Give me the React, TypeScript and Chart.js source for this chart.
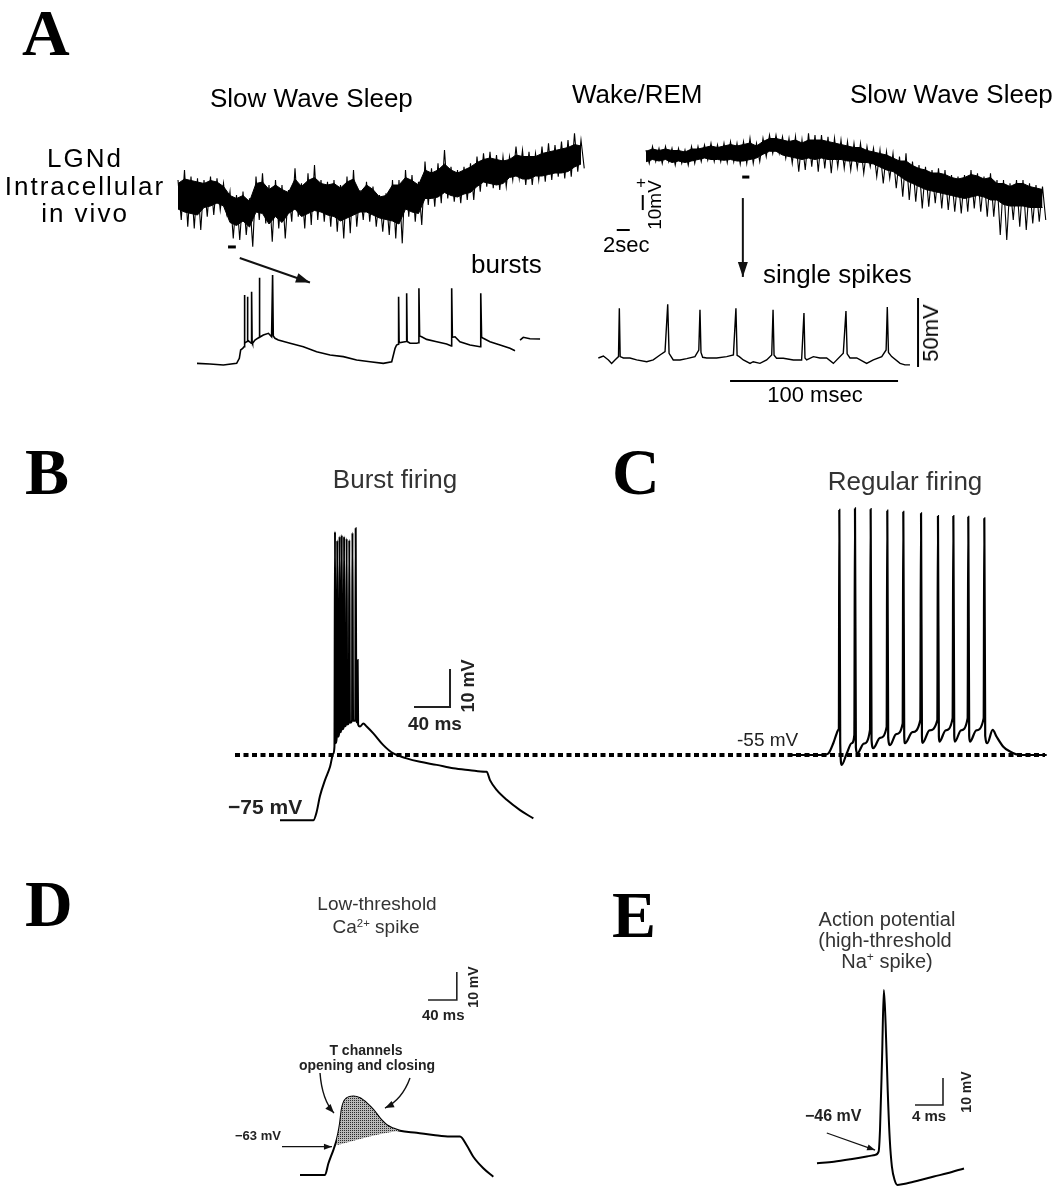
import React, { useEffect, useRef } from "react";
import { Chart, registerables } from "chart.js";

Chart.register(...registerables);

const W = 1057;
const H = 1188;

// ---------- Panel A (top): LGNd intracellular in vivo recording, 1-s samples (mV)
// extremes of the noisy trace (spike tips) and the dense core of the band
const swsStart = 0;
const swsHigh = [
  -46.7, -40, -44.4, -45.6, -46.7, -44.4, -45.6, -48.9, -54.4, -56.7,
  -54.4, -58.9, -44.4, -42.2, -50, -46.7, -50, -53.3, -38.9, -48.9,
  -42.2, -36.7, -46.7, -47.8, -46.7, -50, -44.4, -40, -53.3, -47.8,
  -51.1, -56.7, -55.6, -46.7, -46.7, -40, -43.3, -47.8, -34.4, -38.9,
  -35.6, -26.7, -37.8, -40, -37.8, -35.6, -31.1, -28.9, -27.8, -30,
  -31.1, -31.1, -24.4, -26.7, -27.8, -28.9, -24.4, -22.2, -23.3, -21.1,
  -20, -15.6, -20,
];
const swsLow = [
  -73.3, -77.8, -78.9, -80, -71.1, -70, -66.7, -68.9, -85.6, -86.7,
  -83.3, -91.1, -73.3, -75.6, -87.8, -78.9, -85.6, -74.4, -71.1, -78.9,
  -76.7, -73.3, -74.4, -77.8, -81.1, -85.6, -82.2, -77.8, -73.3, -74.4,
  -77.8, -81.1, -83.3, -85.6, -88.9, -71.1, -74.4, -76.7, -63.3, -64.4,
  -62.2, -58.9, -61.1, -62.2, -60, -60, -54.4, -51.1, -52.2, -53.3,
  -51.1, -46.7, -45.6, -50, -50, -46.7, -47.8, -46.7, -44.4, -45.6,
  -44.4, -41.1, -38.9,
];
const swsCoreHigh = [
  -49, -46, -47, -48, -49, -47, -48, -51, -57, -59,
  -57, -61, -49, -48, -53, -50, -53, -55, -46, -51,
  -47, -45, -49, -50, -49, -52, -48, -46, -55, -50,
  -53, -58, -57, -50, -50, -45, -47, -50, -40, -42,
  -40, -36, -40, -42, -40, -38, -35, -33, -32, -33,
  -34, -33, -30, -31, -31, -31, -29, -28, -27, -26,
  -25, -23, -24,
];
const swsCoreLow = [
  -66, -68, -69, -70, -65, -64, -62, -64, -75, -77,
  -74, -78, -68, -69, -76, -71, -75, -69, -66, -71,
  -69, -67, -68, -70, -71, -74, -72, -70, -68, -68,
  -70, -72, -73, -74, -76, -66, -68, -69, -59, -59,
  -58, -55, -57, -58, -56, -55, -51, -48, -49, -50,
  -49, -45, -44, -46, -46, -44, -44, -43, -42, -42,
  -41, -38, -36,
];
const wakeStart = 72;
const wakeHigh = [
  -26.7, -24.4, -25.6, -24.4, -25.6, -25.6, -26.7, -24.4, -24.4, -23.3,
  -22.2, -23.3, -22.2, -21.1, -22.2, -21.1, -18.9, -22.2, -18.9, -16.7,
  -16.7, -17.8, -18.9, -17.8, -20, -15.6, -16.7, -16.7, -17.8, -18.9,
  -20, -21.1, -22.2, -22.2, -24.4, -25.6, -26.7, -27.8, -28.9, -31.1,
  -28.9, -34.4, -36.7, -37.8, -40, -38.9, -40, -43.3, -44.4, -43.3,
  -40, -42.2, -44.4, -42.2, -46.7, -46.7, -48.9, -46.7, -46.7, -48.9,
  -50, -51.1,
];
const wakeLow = [
  -35.6, -34.4, -35.6, -34.4, -36.7, -35.6, -36.7, -35.6, -34.4, -33.3,
  -34.4, -34.4, -35.1, -34.4, -36, -35.6, -35.6, -34.4, -31.1, -28.9,
  -28.9, -32.2, -35.6, -41.1, -40, -37.8, -41.1, -38.9, -42.2, -37.8,
  -38.9, -40, -38.9, -42.2, -37.8, -44.4, -48.9, -45.6, -52.2, -57.8,
  -60, -61.1, -65.6, -64.4, -62.2, -65.6, -66.7, -67.8, -68.9, -67.8,
  -65.6, -67.8, -71.1, -71.1, -83.3, -86.7, -73.3, -77.8, -80, -75.6,
  -74.4, -73.3,
];
const wakeCoreHigh = [
  -27.5, -26, -27, -26, -27, -27, -28, -26, -26, -25,
  -24, -25, -24, -23, -24, -23, -22, -24, -21, -19,
  -19, -20, -21, -20, -22, -20, -20, -20, -21, -22,
  -23, -24, -25, -25, -27, -28, -29, -30, -32, -34,
  -34, -37, -39, -40, -42, -42, -43, -45, -46, -45,
  -43, -44, -46, -45, -49, -49, -51, -49, -49, -51,
  -52, -53,
];
const wakeCoreLow = [
  -34.5, -33, -34, -33, -35, -34, -35, -34, -33, -32,
  -33, -33, -33.5, -33, -34, -34, -33, -32, -29.5, -27.5,
  -27.5, -30, -31, -32, -33, -32, -33, -32, -33, -33,
  -33, -34, -34, -35, -35, -36, -38, -40, -41, -44,
  -47, -49, -51, -53, -54, -55, -56, -57, -58, -59,
  -58, -57, -58, -60, -60, -63, -64, -64, -64, -65,
  -65, -65,
];
// expanded segments marked under the slow trace: [start s, end s, mV]
const expandMarks = [
  [7.7, 8.9, -91.3],
  [86.8, 87.9, -44.7],
];

// ---------- Panel A (bottom): bursts (ms, mV)
const burstT = [0, 7.7, 15.7, 23.6, 25.2, 26, 27.2, 28, 28.2, 28.5, 29.8, 30, 30.3, 32.3, 32.5, 32.8, 33.1, 34.5, 37, 37.1, 37.4, 39.5, 42.5, 44.4, 45, 45.4, 46.4, 48.4, 55.4, 63.3, 71.2, 79.2, 87.1, 95, 103, 110.9, 115.9, 116.9, 117.9, 118.8, 119.8, 120, 120.3, 123.8, 124.6, 124.8, 125.1, 126.8, 130.8, 131.9, 132.1, 132.5, 133.7, 136.7, 142.7, 148.6, 151.4, 151.6, 152, 153.6, 156.5, 162.5, 168.5, 168.8, 169, 169.4, 170.4, 174.4, 180.4, 186.3, 189.3];
const burstV = [-63.9, -64.3, -65.1, -63.9, -60.2, -54.2, -53, -51.8, -14.3, -49.3, -48, -15.6, -47, -49.3, -12, -48, -49.3, -47, -45, -1.8, -45, -43.3, -42.1, -44.6, 0.1, -44, -45.7, -47, -49.3, -51.8, -55.4, -57.8, -59, -61.4, -62.7, -63.9, -62.7, -57.8, -53, -50.6, -50, -15.6, -49, -48.2, -48, -13.1, -48, -49.3, -49.3, -49, -9.5, -44, -44.6, -46.5, -48.2, -49.9, -51.3, -9.5, -45, -44.6, -48.2, -50.6, -51.8, -51.8, -13.1, -45, -45.7, -48.2, -50.6, -53, -54.7];
const burstTailT = [192.3, 194.2, 198.2, 204.2];
const burstTailV = [-47, -45, -46, -46.2];

// ---------- Panel A (bottom): single spikes (ms, mV)
const singleT = [0.2, 3.2, 6.2, 8.1, 10.1, 12.2, 12.7, 13.2, 15.1, 19, 23, 29, 32.9, 36.9, 39.9, 41.5, 42.3, 44.8, 48.8, 52.8, 57.7, 60, 60.7, 61.3, 62.3, 64.7, 70.6, 76.6, 80.6, 82.1, 82.8, 84.1, 86.5, 90.5, 92.4, 96.4, 100.4, 103.4, 104.2, 104.8, 106.3, 110.3, 116.3, 121.2, 122.6, 123.2, 124.2, 128.2, 132.1, 136.1, 140.1, 146, 147.6, 148.3, 150, 154, 159.9, 163.9, 168.9, 171.5, 172.2, 172.9, 174.8, 179.8, 182.7, 185.7];
const singleV = [-60, -58.6, -61.4, -63.9, -61.4, -59, -24, -59, -60, -60, -61.4, -62.7, -61.4, -57.8, -55.4, -21, -56.6, -61.4, -61.4, -60.5, -59, -54.2, -25, -56, -59.5, -60, -60, -59, -57.8, -24, -58, -59, -61.4, -63.9, -62.7, -63.9, -61.4, -57.8, -25, -58, -60.2, -60.2, -61.4, -61.4, -27.4, -60, -61.4, -59, -60, -60, -63.9, -56.6, -26, -57, -60, -60, -63.9, -61.4, -59, -54.2, -23, -56, -59, -63.9, -65, -65];

// ---------- Panel B: burst firing (ms, mV)
const burstFiringT = [0, 37, 40.7, 44.4, 50, 55.6, 59.3, 60.5, 61.1, 61.8, 63, 63.6, 64.3, 65.6, 66.2, 66.9, 68, 68.6, 69.3, 70.6, 71.2, 71.9, 73.5, 74, 74.7, 76.5, 77, 77.7, 80, 80.5, 81.2, 83.6, 84.1, 84.8, 86, 86.3, 86.8, 88.9, 92.6, 96.3, 103.7, 114.8, 125.9, 140.7, 155.6, 174.1, 192.6, 211.1, 227.8, 229.6, 233.3, 240.7, 251.9, 266.7, 281.5];
const burstFiringV = [-77.2, -77.2, -75, -70.8, -66.6, -63.1, -59.6, -57.8, -1.2, -56.9, -55.5, -3.5, -55.2, -54.5, -2.5, -54, -53.5, -2.1, -53.2, -52.8, -2.5, -52.5, -52, -3, -52, -51.5, -3.4, -51.5, -51, -1.5, -51, -51, -0.3, -51, -51.5, -35, -52, -52.5, -51.7, -52.5, -54.3, -57.4, -59.6, -60.9, -61.8, -62.6, -63.5, -64, -64.4, -64.4, -66.6, -69.2, -71.8, -74.5, -76.7];
const restLevel = -60; // dotted reference line (mV, panel B units)
const restSpan = [-50, 850];

// ---------- Panel C: regular firing (ms, mV)
const regularT = [0, 37, 42.6, 48.1, 51.9, 53.7, 54.3, 54.8, 55.8, 57.4, 63, 68.5, 71.5, 72.2, 73.2, 74.8, 82, 88.9, 89.6, 90.6, 92.6, 100, 107.4, 108.1, 109.1, 111.1, 118, 125.2, 125.9, 126.9, 127.8, 136, 144.8, 145.6, 146.6, 147.3, 155, 163.7, 164.4, 165.4, 166, 173, 180.7, 181.5, 182.5, 183.2, 190, 197.4, 198.1, 199.1, 200, 207, 215.2, 215.9, 216.9, 219.3, 225.2, 229.6, 237, 244.4, 255.6, 270.4, 285.2];
const regularV = [-55, -55, -54.6, -51.9, -49.3, -48.4, -48, 9.5, -52, -57.6, -54.6, -51.9, -49.7, 9.9, -53, -54.6, -52, -48.4, 9.7, -51, -53.2, -50.5, -47.6, 9.3, -50.5, -52.4, -49.5, -46.7, 9, -50, -51.9, -49, -45.8, 8.6, -50, -51.8, -48.5, -45.8, 7.9, -50, -51.5, -48.5, -45.3, 7.9, -50, -51.5, -48.5, -45.3, 7.7, -50, -51.5, -48.5, -45.3, 7.3, -50, -51.9, -48.4, -50.2, -52.8, -54.1, -55, -55, -55];

// ---------- Panel D: low-threshold Ca2+ spike (ms, mV)
const ltsT = [0, 34.7, 39.4, 46.3, 50.9, 53.2, 55.6, 57.9, 60.2, 64.8, 74.1, 83.3, 92.6, 101.9, 111.1, 120.4, 129.6, 138.9, 162, 185.2, 208.3, 222.2, 231.5, 240.7, 254.6, 268.5];
const ltsV = [-73.1, -73.1, -69, -64.2, -60.6, -58.2, -54.7, -49.9, -47.5, -45.7, -45.1, -45.7, -47.5, -49.9, -52.9, -55.3, -56.5, -57.3, -58, -58.8, -59.4, -59.4, -62.5, -66.6, -70.7, -73.7];
const ltsShadeLowT = [50.9, 69.4, 92.6, 115.7, 138.9];
const ltsShadeLowV = [-62.5, -61.2, -59.6, -58.3, -57.3];

// ---------- Panel E: action potential (ms, mV)
const apT = [0, 2.4, 4.8, 7.1, 8.3, 8.8, 9.0, 9.3, 9.55, 9.8, 10.1, 10.4, 10.7, 11.1, 11.5, 12.9, 14.8, 16.7, 18.6, 21];
const apV = [-49.7, -49.1, -48.2, -47.2, -46.6, -45.4, -37.4, -10.2, 14.5, 2.1, -22.6, -41.1, -50.9, -56, -57.7, -57.1, -55.9, -54.6, -53.4, -51.6];

// ---------- Scale bars: [anchor time, anchor mV, time length, mV length]
const barATime = [67.5, -80, 2, 0]; // 2 sec
const barAVolt = [71.5, -66.7, 0, 10]; // 10 mV
const barA100ms = [78.6, -76.7, 100, 0]; // 100 msec
const barA50mV = [190.5, -66.5, 0, 50]; // 50 mV
const barB = [148.9, -47.4, 40, 10];
const barD = [177.8, -10.6, 40, 10];
const barE = [14, -28.1, 4, 10];

// ---------- layout of each panel on the page (pixel origin, pixels per unit)
const LAYOUT = {
  aTop: { px: 178, t0: 0, sx: 6.5, py: 200, v0: -60, sy: 1.5 },
  aBurst: { px: 197, t0: 0, sx: 1.68 },
  aSingle: { px: 598, t0: 0, sx: 1.68 },
  aBottomY: { py: 358, v0: -60, sy: 1.38 },
  b: { px: 280, t0: 0, sx: 0.9, py: 812, v0: -75, sy: 3.8 },
  c: { px: 790, t0: 0, sx: 0.9, py: 755, v0: -55, sy: 3.8 },
  d: { px: 300, t0: 0, sx: 0.72, py: 1146.7, v0: -63, sy: 2.8 },
  e: { px: 817, t0: 0, sx: 7, py: 1153.3, v0: -46, sy: 2.7 },
};

const ARROWS = [
  { x: "xAt", y: "yAt", from: [9.5, -98.7], to: [20.3, -115], w: 2, head: 14, hw: 5 },
  { x: "xAt", y: "yAt", from: [86.9, -58.7], to: [86.9, -111.3], w: 2, head: 15, hw: 5 },
  { x: "xD", y: "yD", from: [-25, -63], to: [44.4, -63], w: 1.2, head: 8, hw: 3 },
  { x: "xD", y: "yD", from: [27.8, -36.7], via: [30.6, -46.3], to: [47.2, -51], w: 1.4, head: 9, hw: 3.5 },
  { x: "xD", y: "yD", from: [152.8, -38.5], via: [141.7, -46.3], to: [118, -49.2], w: 1.4, head: 9, hw: 3.5 },
  { x: "xE", y: "yE", from: [1.4, -38.5], to: [8.3, -44.8], w: 1.2, head: 8, hw: 3 },
];

const SANS = "'Liberation Sans', Arial, Helvetica, sans-serif";
const SERIF = "'Liberation Serif', 'Times New Roman', serif";

type Lbl = {
  t: React.ReactNode; x: number; b: number; s: number; bold?: boolean;
  a?: "l" | "c"; serif?: boolean; c?: string; ls?: number; rot?: boolean;
};

const sup = (s: string) => (
  <sup style={{ fontSize: "0.6em", verticalAlign: "0.55em", lineHeight: 0 }}>{s}</sup>
);

const LABELS: Lbl[] = [
  { t: "A", x: 22, b: 55, s: 66, bold: true, serif: true },
  { t: "B", x: 25, b: 494, s: 66, bold: true, serif: true },
  { t: "C", x: 612, b: 494, s: 66, bold: true, serif: true },
  { t: "D", x: 25, b: 926, s: 66, bold: true, serif: true },
  { t: "E", x: 612, b: 937, s: 66, bold: true, serif: true },
  { t: "Slow Wave Sleep", x: 210, b: 107, s: 26 },
  { t: "Wake/REM", x: 572, b: 103, s: 26 },
  { t: "Slow Wave Sleep", x: 850, b: 103, s: 26 },
  { t: "LGNd", x: 85, b: 167, s: 26, a: "c", ls: 2 },
  { t: "Intracellular", x: 85, b: 195, s: 26, a: "c", ls: 2 },
  { t: "in vivo", x: 85, b: 222, s: 26, a: "c", ls: 2 },
  { t: "bursts", x: 471, b: 273, s: 26 },
  { t: "single spikes", x: 763, b: 283, s: 26 },
  { t: "100 msec", x: 815, b: 403, s: 22, a: "c" },
  { t: "2sec", x: 603, b: 253, s: 22 },
  { t: "+", x: 641, b: 188, s: 17, a: "c" },
  { t: "10mV", x: 654, b: 205, s: 19, rot: true },
  { t: "50mV", x: 931, b: 333, s: 22, rot: true },
  { t: "Burst firing", x: 395, b: 488, s: 26, a: "c", c: "#333" },
  { t: "40 ms", x: 408, b: 730, s: 19, bold: true, c: "#222" },
  { t: "10 mV", x: 468, b: 686, s: 18, bold: true, c: "#222", rot: true },
  { t: "\u221275 mV", x: 228, b: 814, s: 21, bold: true, c: "#222" },
  { t: "Regular firing", x: 905, b: 490, s: 26, a: "c", c: "#333" },
  { t: "-55 mV", x: 737, b: 746, s: 19, c: "#222" },
  { t: "Low-threshold", x: 377, b: 910, s: 19, a: "c", c: "#333" },
  { t: <>Ca{sup("2+")} spike</>, x: 376, b: 933, s: 19, a: "c", c: "#333" },
  { t: "40 ms", x: 422, b: 1020, s: 15, bold: true, c: "#222" },
  { t: "10 mV", x: 473, b: 987, s: 14, bold: true, c: "#222", rot: true },
  { t: "T channels", x: 366, b: 1055, s: 14, a: "c", bold: true, c: "#222" },
  { t: "opening and closing", x: 367, b: 1070, s: 14, a: "c", bold: true, c: "#222" },
  { t: "\u221263 mV", x: 235, b: 1140, s: 13, bold: true, c: "#222" },
  { t: "Action potential", x: 887, b: 926, s: 20, a: "c", c: "#333" },
  { t: "(high-threshold", x: 885, b: 947, s: 20, a: "c", c: "#333" },
  { t: <>Na{sup("+")} spike)</>, x: 887, b: 968, s: 20, a: "c", c: "#333" },
  { t: "\u221246 mV", x: 805, b: 1122, s: 16, bold: true, c: "#222" },
  { t: "4 ms", x: 912, b: 1121, s: 15, bold: true, c: "#222" },
  { t: "10 mV", x: 966, b: 1092, s: 14, bold: true, c: "#222", rot: true },
];

const pairs = (t: number[], v: number[]) => t.map((x, i) => ({ x, y: v[i] }));
const series = (start: number, v: number[]) => v.map((y, i) => ({ x: start + i, y }));
// noisy recording: alternate between the upper and lower spike tips of each sample
const zigzag = (start: number, hi: number[], lo: number[]) => {
  const pts: { x: number; y: number }[] = [];
  hi.forEach((h, i) => {
    pts.push({ x: start + i, y: h });
    pts.push({ x: start + i + 0.5, y: lo[i] });
  });
  return pts;
};
const bar = (b: number[]) => {
  const [t, v, dt, dv] = b;
  const pts = [];
  if (dt) pts.push({ x: t, y: v }, { x: t + dt, y: v });
  else pts.push({ x: t, y: v });
  if (dv) pts.push({ x: t + dt, y: v + dv });
  return pts;
};

const xScale = (px: number, t0: number, s: number) => ({
  type: "linear", axis: "x", display: false, offset: false,
  min: t0 - px / s, max: t0 + (W - px) / s,
});
const yScale = (py: number, v0: number, s: number) => ({
  type: "linear", axis: "y", display: false,
  min: v0 - (H - py) / s, max: v0 + py / s,
});

const arrowPlugin = {
  id: "arrows",
  afterDatasetsDraw(chart: any) {
    const ctx = chart.ctx;
    for (const a of ARROWS) {
      const xs = chart.scales[a.x];
      const ys = chart.scales[a.y];
      const p = (q: number[]) => [xs.getPixelForValue(q[0]), ys.getPixelForValue(q[1])];
      const [x1, y1] = p(a.from);
      const [x2, y2] = p(a.to);
      ctx.save();
      ctx.strokeStyle = "#111";
      ctx.fillStyle = "#111";
      ctx.lineWidth = a.w;
      let ang: number;
      ctx.beginPath();
      ctx.moveTo(x1, y1);
      if ((a as any).via) {
        const [cx, cy] = p((a as any).via);
        ctx.quadraticCurveTo(cx, cy, x2, y2);
        ang = Math.atan2(y2 - cy, x2 - cx);
      } else {
        ctx.lineTo(x2, y2);
        ang = Math.atan2(y2 - y1, x2 - x1);
      }
      ctx.stroke();
      const bx = x2 - a.head * Math.cos(ang);
      const by = y2 - a.head * Math.sin(ang);
      ctx.beginPath();
      ctx.moveTo(x2, y2);
      ctx.lineTo(bx + a.hw * Math.sin(ang), by - a.hw * Math.cos(ang));
      ctx.lineTo(bx - a.hw * Math.sin(ang), by + a.hw * Math.cos(ang));
      ctx.closePath();
      ctx.fill();
      ctx.restore();
    }
  },
};

function Label({ l }: { l: Lbl }) {
  const k = l.serif ? 0.8375 : 0.847;
  const base: React.CSSProperties = {
    position: "absolute",
    whiteSpace: "nowrap",
    fontFamily: l.serif ? SERIF : SANS,
    fontSize: l.s,
    fontWeight: l.bold ? 700 : 400,
    color: l.c || "#000",
    lineHeight: `${l.s}px`,
    letterSpacing: l.ls ? `${l.ls}px` : undefined,
  };
  if (l.rot) {
    return (
      <div style={{ ...base, left: l.x, top: l.b, transform: "translate(-50%, -50%) rotate(-90deg)" }}>
        {l.t}
      </div>
    );
  }
  return (
    <div
      style={{
        ...base,
        left: l.x,
        top: l.b - k * l.s,
        transform: l.a === "c" ? "translateX(-50%)" : undefined,
      }}
    >
      {l.t}
    </div>
  );
}

export default function App() {
  const ref = useRef<HTMLCanvasElement | null>(null);

  useEffect(() => {
    const canvas = ref.current;
    if (!canvas) return;
    const ctx = canvas.getContext("2d")!;

    // stippled fill for the Ca2+ spike area
    const pc = document.createElement("canvas");
    pc.width = 2;
    pc.height = 2;
    const g = pc.getContext("2d")!;
    g.fillStyle = "#b8b8b8";
    g.fillRect(0, 0, 2, 2);
    g.fillStyle = "#2a2a2a";
    g.fillRect(0, 0, 1, 1);
    const pattern = ctx.createPattern(pc, "repeat");

    const L = LAYOUT;
    const line = (data: any[], xAxisID: string, yAxisID: string, extra: any = {}) => ({
      data, xAxisID, yAxisID, showLine: true, pointRadius: 0, borderColor: "#000",
      borderWidth: 2, fill: false, tension: 0, ...extra,
    });
    const smooth = { cubicInterpolationMode: "monotone" };

    const shadeUpper = pairs(ltsT, ltsV).filter(
      (p) => p.x >= ltsShadeLowT[0] && p.x <= ltsShadeLowT[ltsShadeLowT.length - 1]
    );

    const datasets: any[] = [
      // 0: D shading lower boundary (invisible)
      line(pairs(ltsShadeLowT, ltsShadeLowV), "xD", "yD", { borderWidth: 0, borderColor: "rgba(0,0,0,0)", ...smooth }),
      // 1: D shading upper boundary, filled down to dataset 0
      line(shadeUpper, "xD", "yD", { borderWidth: 0, borderColor: "rgba(0,0,0,0)", fill: { target: 0 }, backgroundColor: pattern, ...smooth }),
      // 2,3: dense core of the slow-wave-sleep band
      line(series(swsStart, swsCoreLow), "xAt", "yAt", { borderWidth: 1 }),
      line(series(swsStart, swsCoreHigh), "xAt", "yAt", { borderWidth: 1, fill: { target: 2 }, backgroundColor: "#000" }),
      // 4,5: dense core of the wake / second sleep band
      line(series(wakeStart, wakeCoreLow), "xAt", "yAt", { borderWidth: 1 }),
      line(series(wakeStart, wakeCoreHigh), "xAt", "yAt", { borderWidth: 1, fill: { target: 4 }, backgroundColor: "#000" }),
      // spike tips
      line(zigzag(swsStart, swsHigh, swsLow), "xAt", "yAt", { borderWidth: 1.1 }),
      line(zigzag(wakeStart, wakeHigh, wakeLow), "xAt", "yAt", { borderWidth: 1.1 }),
      ...expandMarks.map((m) => line([{ x: m[0], y: m[2] }, { x: m[1], y: m[2] }], "xAt", "yAt", { borderWidth: 3 })),
      line(bar(barATime), "xAt", "yAt", { borderWidth: 2 }),
      line(bar(barAVolt), "xAt", "yAt", { borderWidth: 2 }),
      line(pairs(burstT, burstV), "xAb1", "yAb", { borderWidth: 1.6 }),
      line(pairs(burstTailT, burstTailV), "xAb1", "yAb", { borderWidth: 1.6 }),
      line(pairs(singleT, singleV), "xAb2", "yAb", { borderWidth: 1.4 }),
      line(bar(barA100ms), "xAb2", "yAb", { borderWidth: 2 }),
      line(bar(barA50mV), "xAb2", "yAb", { borderWidth: 2 }),
      line(pairs(burstFiringT, burstFiringV), "xB", "yB", { borderWidth: 2, ...smooth }),
      line(bar(barB), "xB", "yB", { borderWidth: 2, borderColor: "#222" }),
      line(pairs(regularT, regularV), "xC", "yC", { borderWidth: 2.2, ...smooth }),
      line(pairs(ltsT, ltsV), "xD", "yD", { borderWidth: 2, ...smooth }),
      line(bar(barD), "xD", "yD", { borderWidth: 1.6, borderColor: "#222" }),
      line(pairs(apT, apV), "xE", "yE", { borderWidth: 2, ...smooth }),
      line(bar(barE), "xE", "yE", { borderWidth: 1.6, borderColor: "#222" }),
      // dotted resting line (drawn underneath)
      line([{ x: restSpan[0], y: restLevel }, { x: restSpan[1], y: restLevel }], "xB", "yB", {
        borderWidth: 4, borderDash: [5, 3.5], borderCapStyle: "butt",
      }),
    ];

    const chart = new Chart(canvas, {
      type: "scatter",
      data: { datasets },
      options: {
        animation: false,
        responsive: false,
        events: [],
        layout: { padding: 0 },
        plugins: { legend: { display: false }, tooltip: { enabled: false }, title: { display: false } },
        scales: {
          x: { display: false },
          y: { display: false },
          xAt: xScale(L.aTop.px, L.aTop.t0, L.aTop.sx),
          yAt: yScale(L.aTop.py, L.aTop.v0, L.aTop.sy),
          xAb1: xScale(L.aBurst.px, L.aBurst.t0, L.aBurst.sx),
          xAb2: xScale(L.aSingle.px, L.aSingle.t0, L.aSingle.sx),
          yAb: yScale(L.aBottomY.py, L.aBottomY.v0, L.aBottomY.sy),
          xB: xScale(L.b.px, L.b.t0, L.b.sx),
          yB: yScale(L.b.py, L.b.v0, L.b.sy),
          xC: xScale(L.c.px, L.c.t0, L.c.sx),
          yC: yScale(L.c.py, L.c.v0, L.c.sy),
          xD: xScale(L.d.px, L.d.t0, L.d.sx),
          yD: yScale(L.d.py, L.d.v0, L.d.sy),
          xE: xScale(L.e.px, L.e.t0, L.e.sx),
          yE: yScale(L.e.py, L.e.v0, L.e.sy),
        } as any,
      },
      plugins: [arrowPlugin],
    } as any);

    return () => chart.destroy();
  }, []);

  return (
    <div style={{ position: "absolute", left: 0, top: 0, width: W, height: H, background: "#fff", overflow: "hidden" }}>
      <canvas ref={ref} width={W} height={H} style={{ display: "block", position: "absolute", left: 0, top: 0 }} />
      {LABELS.map((l, i) => (
        <Label key={i} l={l} />
      ))}
    </div>
  );
}
